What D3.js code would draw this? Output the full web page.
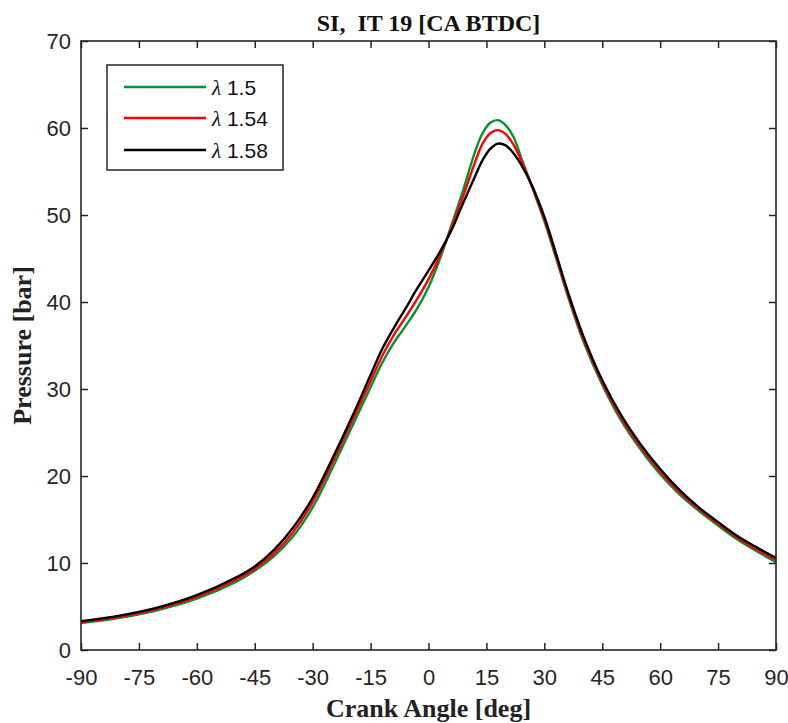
<!DOCTYPE html>
<html>
<head>
<meta charset="utf-8">
<script src="https://cdn.jsdelivr.net/npm/d3@7"></script>
<style>
  html, body { margin: 0; padding: 0; background: #fff; }
  svg { display: block; }
</style>
</head>
<body>
<svg id="chart" width="788" height="723"></svg>
<script>
// ---- data ----
const angles = [-90,-80,-70,-60,-50,-45,-40,-35,-30,-25,-20,-15,-12,-9,-6,-3,0,3,6,9,12,14,16,18,20,22,24,27,30,33,36,40,45,50,55,60,65,70,75,80,85,90];
const lambda150 = [3.1,3.7,4.6,5.9,7.8,9.1,10.8,13.1,16.4,20.8,25.5,30.2,33.0,35.3,37.2,39.2,41.7,45.0,48.9,52.9,57.2,59.4,60.6,60.9,60.3,59.0,56.6,53.0,49.3,45.1,40.8,35.6,30.5,26.3,23.0,20.2,17.9,16.0,14.3,12.7,11.35,10.1];
const lambda154 = [3.2,3.8,4.75,6.1,8.05,9.35,11.1,13.6,17.0,21.4,26.1,30.9,33.8,36.2,38.2,40.3,42.6,45.4,48.6,52.2,56.0,58.2,59.4,59.75,59.3,58.1,56.3,53.1,49.5,45.3,41.0,35.9,30.75,26.6,23.3,20.5,18.15,16.2,14.5,12.9,11.55,10.35];
const lambda158 = [3.3,3.95,4.9,6.3,8.3,9.6,11.5,14.1,17.5,21.9,26.6,31.6,34.6,37.0,39.2,41.5,43.6,45.8,48.3,51.4,54.4,56.3,57.6,58.2,58.0,57.1,55.8,53.2,49.8,45.6,41.3,36.2,31.0,26.9,23.6,20.8,18.4,16.4,14.7,13.1,11.8,10.6];
const seriesNames = ["\u03bb 1.5", "\u03bb 1.54", "\u03bb 1.58"];
const seriesColors = ["#00952f", "#ff0000", "#000000"];
const xTicks = [-90,-75,-60,-45,-30,-15,0,15,30,45,60,75,90];
const yTicks = [0,10,20,30,40,50,60,70];
const titleText = "SI,  IT 19 [CA BTDC]";
const xLabel = "Crank Angle [deg]";
const yLabel = "Pressure [bar]";

// ---- layout ----
const svg = d3.select("#chart");
const L = 81, R = 776, T = 41, B = 650;
const x = d3.scaleLinear().domain([-90, 90]).range([L, R]);
const y = d3.scaleLinear().domain([0, 70]).range([B, T]);
const axisColor = "#262626";
const tickFont = "'Liberation Sans', Arial, Helvetica, sans-serif";
const serif = "'Liberation Serif', 'Times New Roman', Times, serif";

// lines
const line = d3.line().x((d, i) => x(angles[i])).y(d => y(d)).curve(d3.curveCatmullRom.alpha(0.5));
const allSeries = [lambda150, lambda154, lambda158];
svg.append("g").selectAll("path").data(allSeries).join("path")
  .attr("d", d => line(d))
  .attr("fill", "none")
  .attr("stroke", (d, i) => seriesColors[i])
  .attr("stroke-width", 2.4)
  .attr("stroke-linejoin", "round");

// axes
const tickLen = 7;
const fmt = d => String(d);
const xb = svg.append("g").attr("transform", `translate(0,${B})`)
  .call(d3.axisBottom(x).tickValues(xTicks).tickSizeInner(-tickLen).tickSizeOuter(0).tickPadding(19).tickFormat(fmt));
const xt = svg.append("g").attr("transform", `translate(0,${T})`)
  .call(d3.axisTop(x).tickValues(xTicks).tickSizeInner(-tickLen).tickSizeOuter(0).tickFormat(""));
const yl = svg.append("g").attr("transform", `translate(${L},0)`)
  .call(d3.axisLeft(y).tickValues(yTicks).tickSizeInner(-tickLen).tickSizeOuter(0).tickPadding(10).tickFormat(fmt));
const yr = svg.append("g").attr("transform", `translate(${R},0)`)
  .call(d3.axisRight(y).tickValues(yTicks).tickSizeInner(-tickLen).tickSizeOuter(0).tickFormat(""));
[xb, xt, yl, yr].forEach(g => {
  g.select(".domain").remove();
  g.selectAll(".tick line").attr("stroke", axisColor).attr("stroke-width", 1.5);
  g.selectAll(".tick text").attr("fill", axisColor).attr("font-family", tickFont).attr("font-size", 22);
});
svg.append("rect").attr("x", L).attr("y", T).attr("width", R - L).attr("height", B - T)
  .attr("fill", "none").attr("stroke", axisColor).attr("stroke-width", 1.6);

// title & labels
svg.append("text").attr("x", (L + R) / 2).attr("y", 31).attr("text-anchor", "middle")
  .attr("font-family", serif).attr("font-weight", "bold").attr("font-size", 24)
  .style("white-space", "pre").attr("fill", "#111").text(titleText);
svg.append("text").attr("x", (L + R) / 2).attr("y", 717).attr("text-anchor", "middle")
  .attr("font-family", serif).attr("font-weight", "bold").attr("font-size", 26)
  .attr("fill", "#222").text(xLabel);
svg.append("text").attr("transform", `translate(31,${(T + B) / 2}) rotate(-90)`).attr("text-anchor", "middle")
  .attr("font-family", serif).attr("font-weight", "bold").attr("font-size", 26)
  .attr("fill", "#222").text(yLabel);

// legend
const lg = svg.append("g");
lg.append("rect").attr("x", 107).attr("y", 65).attr("width", 176).attr("height", 105)
  .attr("fill", "#fff").attr("stroke", axisColor).attr("stroke-width", 1.5);
const rowsY = [87, 118, 150];
seriesNames.forEach((name, i) => {
  lg.append("line").attr("x1", 124).attr("x2", 206).attr("y1", rowsY[i]).attr("y2", rowsY[i])
    .attr("stroke", seriesColors[i]).attr("stroke-width", 2.4);
  const t = lg.append("text").attr("x", 212).attr("y", rowsY[i] + 7.5)
    .attr("font-family", tickFont).attr("font-size", 21).attr("fill", "#111");
  t.append("tspan").attr("font-family", serif).attr("font-style", "italic").text(name.slice(0, 1));
  t.append("tspan").text(name.slice(1));
});
</script>
</body>
</html>
